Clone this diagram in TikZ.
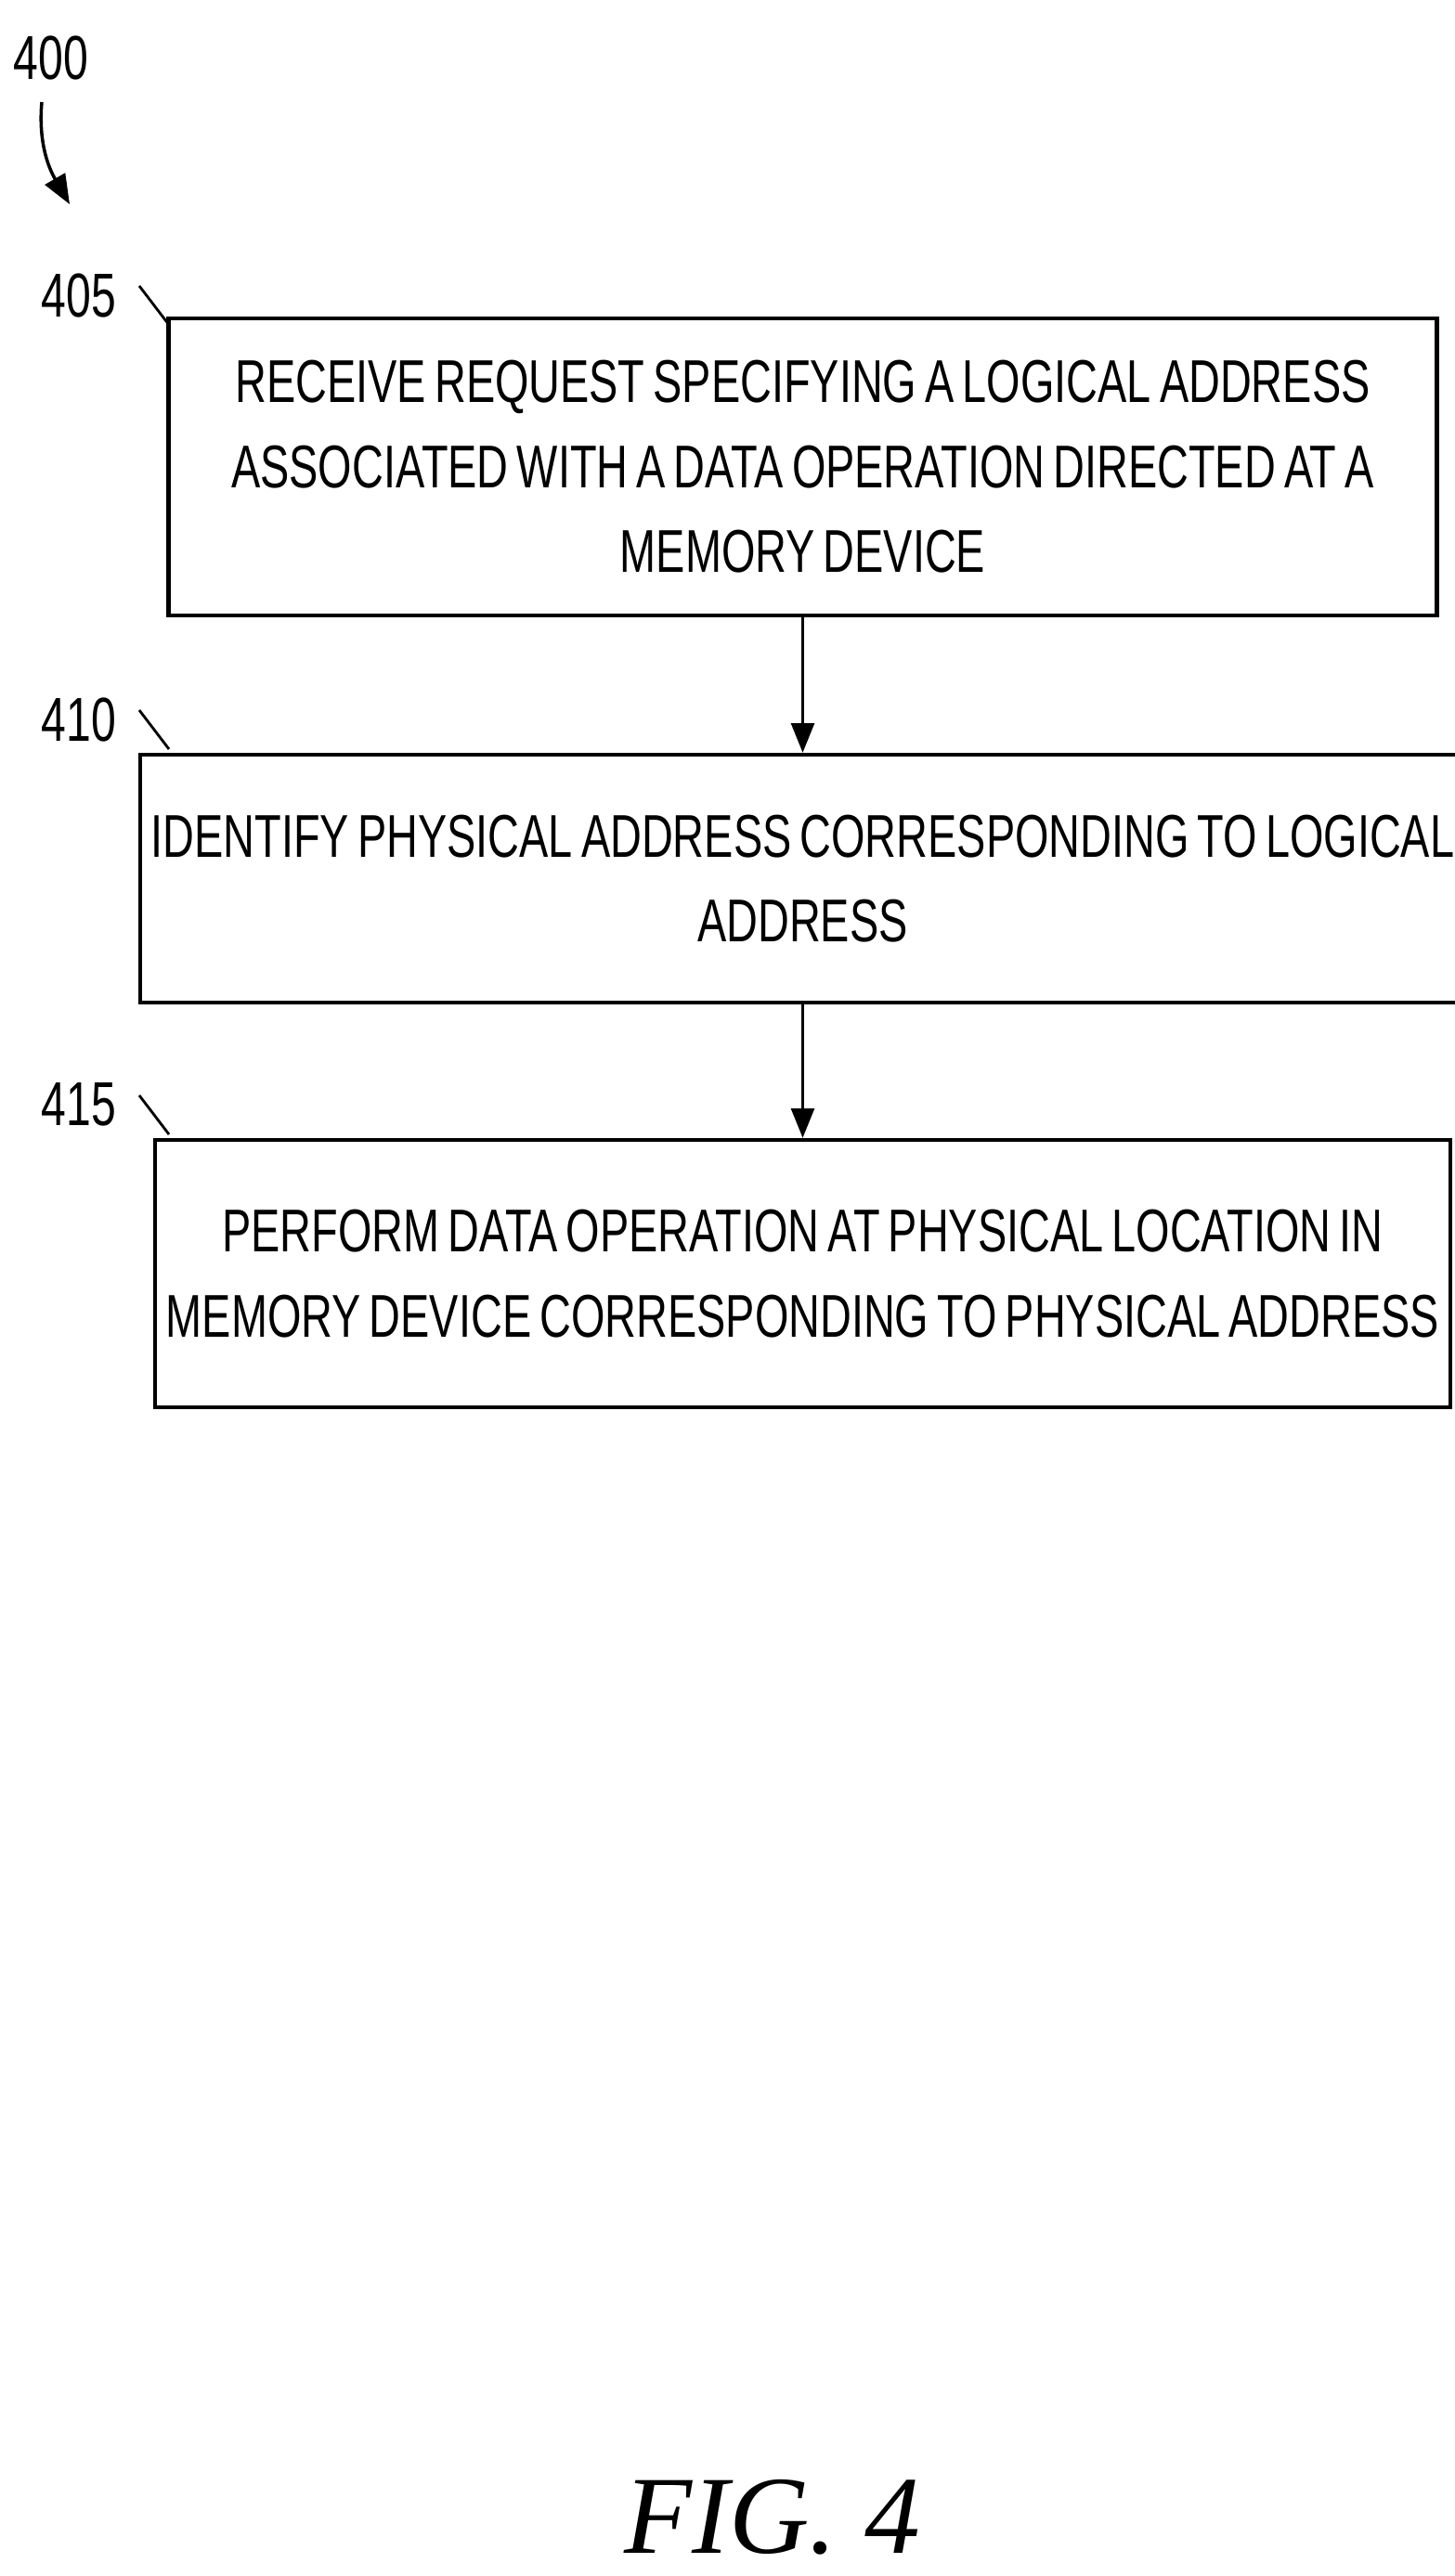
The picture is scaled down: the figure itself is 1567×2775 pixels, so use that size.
\documentclass[tikz,border=0pt]{standalone}
\usepackage{fontspec}
\setmainfont[FakeStretch=0.72,WordSpace=0.7]{Liberation Sans}
\newfontfamily\figfont{Liberation Serif}
\usetikzlibrary{positioning,arrows.meta}
\tikzset{
  stepbox/.style={draw,line width=1.2pt,minimum width=13.65cm,align=center,
    font=\fontsize{18.5}{26}\selectfont},
  reflabel/.style={font=\fontsize{19}{22}\selectfont,inner sep=0pt},
  flow/.style={-{Triangle[length=9pt,width=7pt]},line width=1pt},
}
\begin{document}
\begin{tikzpicture}[x=0.01cm,y=-0.01cm]
\useasboundingbox (0,0) rectangle (1567,2775);
\node[stepbox,minimum height=3.2cm] (s405) at (864.5,503)
  {RECEIVE REQUEST SPECIFYING A LOGICAL ADDRESS\\ASSOCIATED WITH A DATA OPERATION DIRECTED AT A\\MEMORY DEVICE};
\node[stepbox,minimum height=2.67cm] (s410) at (864.5,946.5)
  {IDENTIFY PHYSICAL ADDRESS CORRESPONDING TO LOGICAL\\ADDRESS};
\node[stepbox,minimum height=2.88cm] (s415) at (864.5,1372)
  {PERFORM DATA OPERATION AT PHYSICAL LOCATION IN\\MEMORY DEVICE CORRESPONDING TO PHYSICAL ADDRESS};
\draw[flow] (s405) -- (s410);
\draw[flow] (s410) -- (s415);
% reference numerals
\node[reflabel] (n400) at (55,62) {400};
\coordinate (n400end) at (75,220);
\draw[flow] (45,110) to[out=-95,in=120] (n400end);
\foreach \n/\y in {405/318,410/775,415/1190} {
  \node[reflabel] (n\n) at (85,\y) {\n};
  \draw[line width=0.8pt] (150,\y-10) -- (182,\y+32);
}
\node[font=\figfont\itshape\fontsize{34}{40}\selectfont] (fig) at (832,2712) {FIG. 4};
\end{tikzpicture}
\end{document}
